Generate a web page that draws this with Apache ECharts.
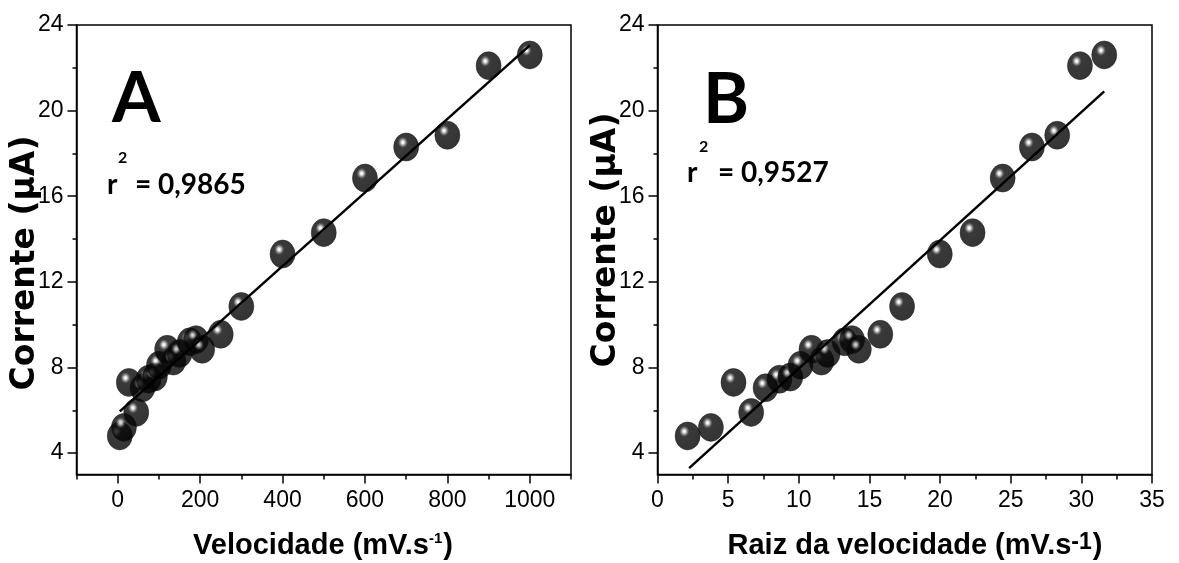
<!DOCTYPE html>
<html>
<head>
<meta charset="utf-8">
<script src="https://cdn.jsdelivr.net/npm/echarts@6.0.0/dist/echarts.min.js"></script>
<style>
  html, body { margin: 0; padding: 0; background: #fff; }
  #chart { width: 1179px; height: 563px; }
</style>
</head>
<body>
<div id="chart"></div>
<script>
// valores
const velocidade = [5, 15, 27, 45, 60, 75, 90, 100, 120, 135, 150, 175, 190, 205, 250, 300, 400, 500, 600, 700, 800, 900, 1000]
const raizVelocidade = [2.13, 3.78, 5.38, 6.63, 7.65, 8.63, 9.4, 10.12, 10.9, 11.6, 12.04, 13.24, 13.77, 14.25, 15.77, 17.31, 19.98, 22.3, 24.43, 26.5, 28.29, 29.9, 31.62]
const corrente = [4.8, 5.2, 7.3, 5.9, 7.05, 7.45, 7.55, 8.1, 8.85, 8.3, 8.65, 9.2, 9.3, 8.85, 9.55, 10.85, 13.3, 14.3, 16.85, 18.3, 18.85, 22.1, 22.6]

// extremos das retas de ajuste
const ajusteAx = [5, 1000]
const ajusteAy = [5.95, 23.05]
const ajusteBx = [2.24, 31.62]
const ajusteBy = [3.3, 20.9]

// marcas dos eixos
const ticksXA = [0, 200, 400, 600, 800, 1000]
const minorXA = [-100, 100, 300, 500, 700, 900, 1100]
const ticksXB = [0, 5, 10, 15, 20, 25, 30, 35]
const minorXB = [2.5, 7.5, 12.5, 17.5, 22.5, 27.5, 32.5]
const ticksY = [4, 8, 12, 16, 20, 24]
const minorY = [6, 10, 14, 18, 22]

const r2A = '= 0,9865'
const r2B = '= 0,9527'

const chart = echarts.init(document.getElementById('chart'))

const arial = '"Liberation Sans", Arial, sans-serif'
const tickFont = { color: '#000', fontSize: 23, fontFamily: arial }
const blackLine = { color: '#000', width: 1.5 }

function xAxes(grid, min, max, major, minor) {
  return [
    {
      type: 'value', gridIndex: grid, min, max, position: 'bottom',
      axisLine: { show: true, onZero: false, lineStyle: blackLine },
      axisTick: { show: true, length: 9, customValues: major, lineStyle: blackLine },
      axisLabel: Object.assign({ customValues: major, margin: 15, formatter: v => String(v) }, tickFont),
      splitLine: { show: false }
    },
    {
      type: 'value', gridIndex: grid, min, max, position: 'bottom',
      axisLine: { show: false, onZero: false },
      axisTick: { show: true, length: 5, customValues: minor, lineStyle: blackLine },
      axisLabel: { show: false },
      splitLine: { show: false }
    }
  ]
}

function yAxes(grid) {
  return [
    {
      type: 'value', gridIndex: grid, min: 3, max: 24, position: 'left',
      axisLine: { show: true, onZero: false, lineStyle: blackLine },
      axisTick: { show: true, length: 9, customValues: ticksY, lineStyle: blackLine },
      axisLabel: Object.assign({ customValues: ticksY, margin: 13 }, tickFont),
      splitLine: { show: false }
    },
    {
      type: 'value', gridIndex: grid, min: 3, max: 24, position: 'left',
      axisLine: { show: false, onZero: false },
      axisTick: { show: true, length: 4, customValues: minorY, lineStyle: blackLine },
      axisLabel: { show: false },
      splitLine: { show: false }
    }
  ]
}

// esfera preta com brilho
const ball = {
  color: {
    type: 'radial', x: 0.37, y: 0.34, r: 0.8,
    colorStops: [
      { offset: 0, color: '#ffffff' },
      { offset: 0.05, color: '#f0f0f0' },
      { offset: 0.11, color: '#a0a0a0' },
      { offset: 0.17, color: '#4a4a4a' },
      { offset: 0.24, color: '#080808' },
      { offset: 1, color: '#000000' }
    ]
  },
  borderColor: '#1a1a1a',
  borderWidth: 0.6
}

const titleFont = 'bold 29px ' + arial
const yTitleFont = 'bold 33px "DejaVu Sans", sans-serif'
const calibri = '"Lato", "Open Sans", sans-serif'

function xTitle(x, text, supSize) {
  return {
    type: 'text', x: x, y: 546,
    style: {
      text: '{a|' + text + '}{s|-1}{a|)}',
      align: 'center', verticalAlign: 'middle',
      rich: {
        a: { font: titleFont, fill: '#000' },
        s: { font: 'bold ' + supSize + 'px ' + arial, fill: '#000', verticalAlign: 'top', padding: [0, 1, 0, 0] }
      }
    }
  }
}

function yTitle(x, y) {
  return {
    type: 'text', x: x, y: y, rotation: Math.PI / 2,
    style: { text: 'Corrente (\u03bcA)', font: yTitleFont, fill: '#000', align: 'center', verticalAlign: 'middle' }
  }
}

function textAt(x, y, text, size, align) {
  return {
    type: 'text', x: x, y: y,
    style: { text: text, font: 'bold ' + size + 'px ' + calibri, fill: '#000', align: align || 'left', verticalAlign: 'middle' }
  }
}

const option = {
  animation: false,
  backgroundColor: '#fff',
  grid: [
    { left: 76.5, top: 25, width: 494.5, height: 449.5, show: true, borderColor: '#000', borderWidth: 1.5, backgroundColor: 'transparent' },
    { left: 657.5, top: 25, width: 494.5, height: 449.5, show: true, borderColor: '#000', borderWidth: 1.5, backgroundColor: 'transparent' }
  ],
  xAxis: [].concat(xAxes(0, -100, 1100, ticksXA, minorXA), xAxes(1, 0, 35, ticksXB, minorXB)),
  yAxis: [].concat(yAxes(0), yAxes(1)),
  series: [
    {
      type: 'scatter', xAxisIndex: 0, yAxisIndex: 0,
      symbol: 'circle', symbolSize: [25, 28],
      data: velocidade.map((v, i) => [v, corrente[i]]),
      itemStyle: ball, z: 2
    },
    {
      type: 'line', xAxisIndex: 0, yAxisIndex: 0,
      data: ajusteAx.map((v, i) => [v, ajusteAy[i]]),
      symbol: 'none', lineStyle: { color: '#000', width: 2.5 }, z: 5
    },
    {
      type: 'scatter', xAxisIndex: 2, yAxisIndex: 2,
      symbol: 'circle', symbolSize: [25, 28],
      data: raizVelocidade.map((v, i) => [v, corrente[i]]),
      itemStyle: ball, z: 2
    },
    {
      type: 'line', xAxisIndex: 2, yAxisIndex: 2,
      data: ajusteBx.map((v, i) => [v, ajusteBy[i]]),
      symbol: 'none', lineStyle: { color: '#000', width: 2.5 }, z: 5
    }
  ],
  graphic: [
    yTitle(25, 263),
    yTitle(606, 240),
    xTitle(323, 'Velocidade (mV.s', 15),
    xTitle(915, 'Raiz da velocidade (mV.s', 23),
    textAt(112, 99, 'A', 70),
    textAt(107, 185, 'r', 28),
    textAt(118, 158, '2', 16),
    textAt(135, 185, r2A, 28),
    textAt(703, 100, 'B', 70),
    textAt(687, 173, 'r', 28),
    textAt(699, 147, '2', 16),
    textAt(718, 173, r2B, 28)
  ]
}

chart.setOption(option)
</script>
</body>
</html>
